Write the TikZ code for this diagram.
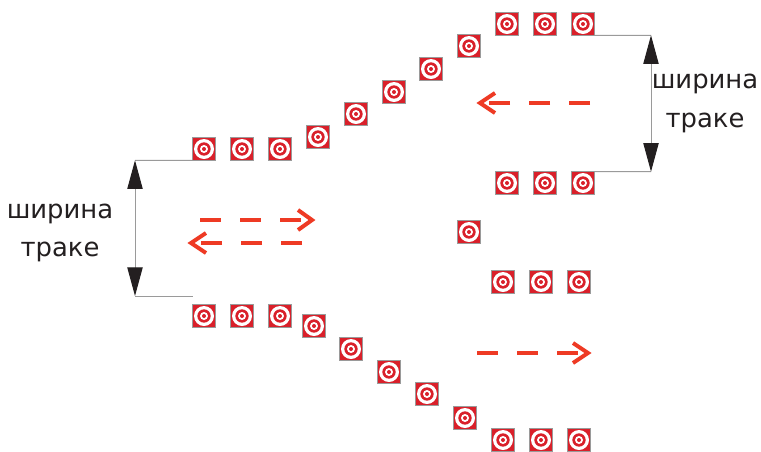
\documentclass[tikz,border=0pt]{standalone}
\usepackage{fontspec}
\setmainfont{DejaVu Sans}
\usetikzlibrary{arrows.meta}
\definecolor{tred}{HTML}{D9202A}
\definecolor{ared}{HTML}{EE3A24}
\definecolor{tgray}{HTML}{9A9A9A}
\definecolor{lblack}{HTML}{231F20}
\tikzset{
  x=0.75pt,y=-0.75pt,
  target/.style={rectangle,draw=tgray,line width=0.3pt,fill=tred,minimum size=17pt,inner sep=0pt,outer sep=0pt,
    path picture={
      \fill[white] (path picture bounding box.center) circle[radius=7.5pt];
      \fill[tred] (path picture bounding box.center) circle[radius=5pt];
      \fill[white] (path picture bounding box.center) circle[radius=3pt];
      \fill[tred] (path picture bounding box.center) circle[radius=1.5pt];
    }},
  extline/.style={draw=tgray,line width=0.75pt},
  dimline/.style={draw=tgray,line width=0.75pt,{Triangle[length=21.5pt,width=11.5pt,color=lblack]}-{Triangle[length=21.5pt,width=11.5pt,color=lblack]}},
  flow/.style={draw=ared,line width=3pt,dash pattern=on 16pt off 14pt},
  flowhead/.style={draw=ared,line width=3pt,line join=miter},
  lbl/.style={font=\fontsize{19.4pt}{23pt}\selectfont,text=lblack,inner sep=0pt,anchor=base},
}
\begin{document}
\begin{tikzpicture}
\useasboundingbox (0,0) rectangle (761,451);
% targets
\foreach \n/\px/\py in {
 a1/204/149,a2/242/149,a3/280/149,a4/318/137,a5/356/114,a6/394/92,a7/431/69,a8/469/46,a9/507/24,a10/545/24,a11/583/24,
 b1/507/183,b2/545/183,b3/583/183,
 c1/469/232,
 d1/503/282,d2/541/282,d3/579/282,
 e1/204/316,e2/242/316,e3/280/316,e4/314/326,e5/351/349,e6/389/372,e7/427/394,e8/465/418,e9/503/440,e10/541/440,e11/579/440}
  \node[target] (\n) at (\px,\py) {};
% left dimension
\coordinate (lt) at (135,160.3);
\coordinate (lb) at (135,296);
\coordinate (lbe) at (192.7,296);
\draw[extline] (a1.south west) -- (lt);
\draw[extline] (lbe) -- (lb);
\draw[dimline] (lt) -- (lb);
% right dimension
\coordinate (rt) at (651,35.3);
\coordinate (rb) at (651,171.7);
\draw[extline] (a11.south east) -- (rt);
\draw[extline] (b3.north east) -- (rb);
\draw[dimline] (rt) -- (rb);
% labels
\node[lbl] (l1) at (60,218) {ширина};
\node[lbl] (l2) at (60,256) {траке};
\node[lbl] (l3) at (705,88) {ширина};
\node[lbl] (l4) at (705,127) {траке};
% flows
\coordinate (f1a) at (200,220); \coordinate (f1b) at (310,220);
\coordinate (f2a) at (302,243); \coordinate (f2b) at (192,243);
\coordinate (f3a) at (590,103); \coordinate (f3b) at (481,103);
\coordinate (f4a) at (477,353); \coordinate (f4b) at (587,353);
\draw[flow] (f1a) -- (f1b);
\draw[flowhead] (298,210) -- (312,220) -- (298,230);
\draw[flow] (f2a) -- (f2b);
\draw[flowhead] (206,233) -- (191,243) -- (206,253);
\draw[flow] (f3a) -- (f3b);
\draw[flowhead] (495,93) -- (480,103) -- (495,113);
\draw[flow] (f4a) -- (f4b);
\draw[flowhead] (573,343) -- (588,353) -- (573,363);
\end{tikzpicture}
\end{document}
